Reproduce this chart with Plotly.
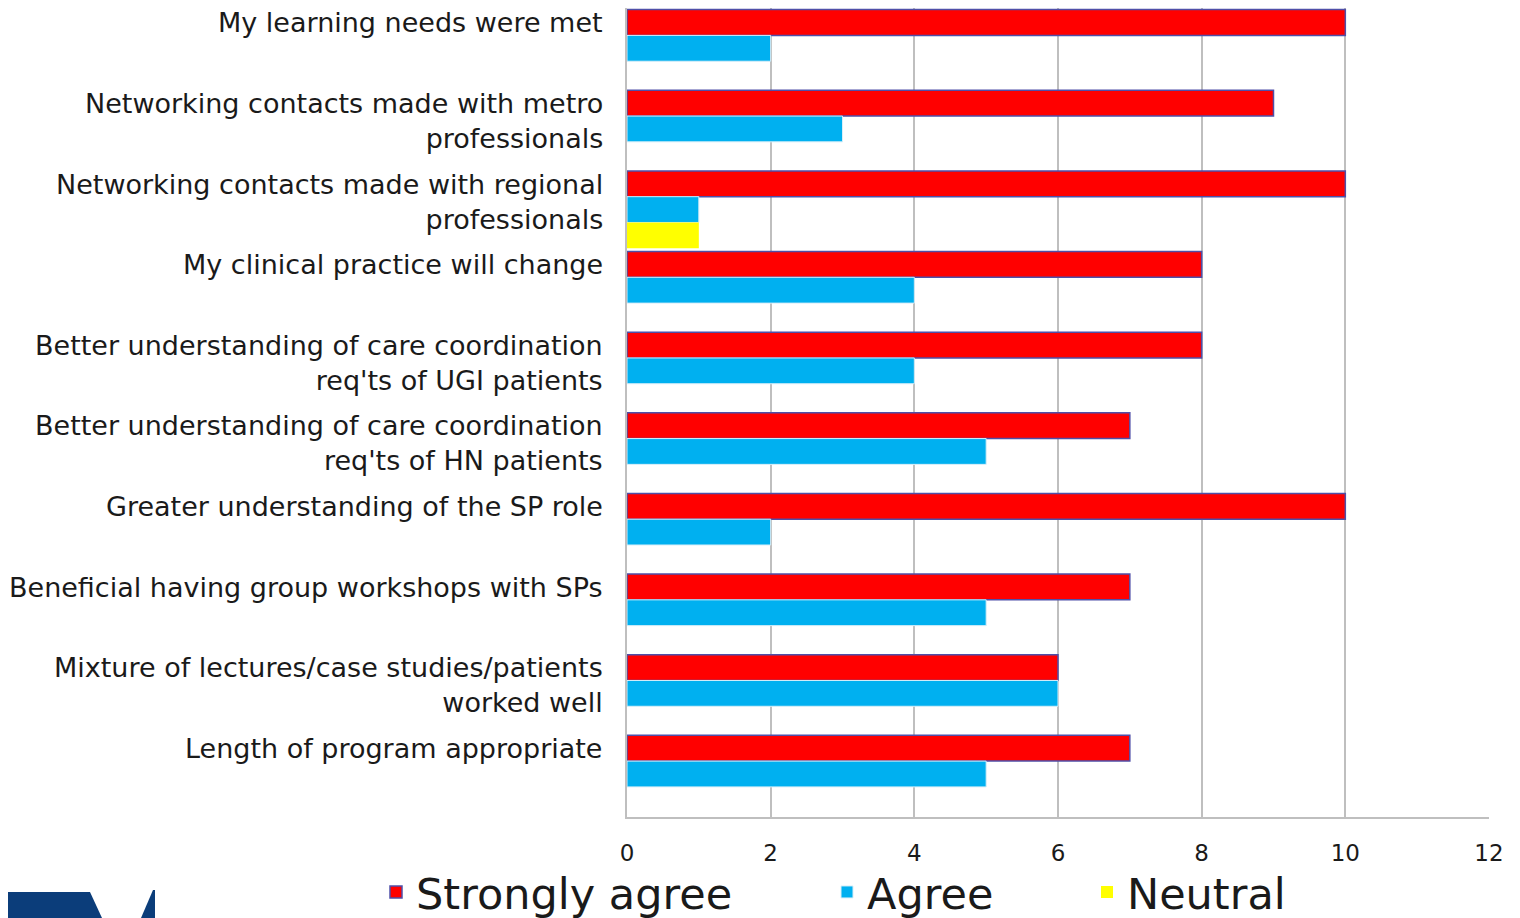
import plotly.graph_objects as go

categories = [
    "My learning needs were met",
    "Networking contacts made with metro<br>professionals",
    "Networking contacts made with regional<br>professionals",
    "My clinical practice will change",
    "Better understanding of care coordination<br>req'ts of UGI patients",
    "Better understanding of care coordination<br>req'ts of HN patients",
    "Greater understanding of the SP role",
    "Beneficial having group workshops with SPs",
    "Mixture of lectures/case studies/patients<br>worked well",
    "Length of program appropriate",
]
strongly_agree = [10, 9, 10, 8, 8, 7, 10, 7, 6, 7]
agree = [2, 3, 1, 4, 4, 5, 2, 5, 6, 5]
neutral = [0, 0, 1, 0, 0, 0, 0, 0, 0, 0]
series_names = ["Strongly agree", "Agree", "Neutral"]
x_ticks = [0, 2, 4, 6, 8, 10, 12]

# page has an 8px body margin; size the figure to fill the rest
OFF = 8
W, H = 1512, 910
L, R, T, B = 619, 31, 0, 101

FONT = "DejaVu Sans, Verdana, sans-serif"

fig = go.Figure()
fig.add_trace(go.Bar(y=categories, x=strongly_agree, orientation="h",
                     name=series_names[0], legend="legend", showlegend=True,
                     marker=dict(color="#FF0000", line=dict(color="#4F4FA8", width=1.5))))
fig.add_trace(go.Bar(y=categories, x=agree, orientation="h",
                     name=series_names[1], legend="legend2", showlegend=True,
                     marker=dict(color="#00B0F0", line=dict(color="#D8EEF8", width=1))))
fig.add_trace(go.Bar(y=categories, x=neutral, orientation="h",
                     name=series_names[2], legend="legend3", showlegend=True,
                     marker=dict(color="#FFFF00", line=dict(width=0))))

annotations = []
for c in categories:
    annotations.append(dict(
        x=0, xref="paper", y=c, yref="y", xanchor="right", yanchor="top",
        xshift=-22, yshift=43, align="right", showarrow=False, text=c,
        font=dict(family=FONT, size=27, color="#1a1a1a")))

def px(xp):
    return (xp - OFF - L) / (W - L - R)

def py(yp):
    return (H - B - (yp - OFF)) / (H - T - B)

# decorative logo fragment bottom-left
shapes = [
    dict(type="path", xref="paper", yref="paper",
         path=f"M {px(0)} {py(892)} L {px(90)} {py(892)} L {px(102)} {py(918)} L {px(0)} {py(918)} Z",
         fillcolor="#0B3D7A", line=dict(width=0), layer="above"),
    dict(type="path", xref="paper", yref="paper",
         path=f"M {px(153)} {py(890)} L {px(155)} {py(890)} L {px(155)} {py(918)} L {px(141)} {py(918)} Z",
         fillcolor="#0B3D7A", line=dict(width=0), layer="above"),
]

def legend_at(page_x):
    return dict(orientation="h", xref="container", yref="container",
                x=(page_x - OFF) / W, xanchor="left",
                y=1 - (892 - OFF) / H, yanchor="middle",
                font=dict(size=43, color="#1a1a1a", family=FONT),
                bgcolor="rgba(0,0,0,0)", visible=True)

fig.update_layout(
    width=W, height=H,
    margin=dict(l=L, r=R, t=T, b=B, autoexpand=False),
    paper_bgcolor="white", plot_bgcolor="white",
    showlegend=True,
    barmode="group", bargap=0.04, bargroupgap=0,
    font=dict(family=FONT, color="#1a1a1a"),
    xaxis=dict(range=[0, 12], tickvals=x_ticks, showgrid=True, gridcolor="#BFBFBF",
               gridwidth=2, zeroline=False, showline=True, linecolor="#BFBFBF", linewidth=2,
               ticks="", ticklabelstandoff=14, automargin=False,
               tickfont=dict(size=23, color="#1a1a1a"), fixedrange=True),
    yaxis=dict(autorange="reversed", showticklabels=False, showgrid=False, zeroline=False,
               showline=True, linecolor="#BFBFBF", linewidth=2, ticks="", automargin=False),
    legend=legend_at(376),
    legend2=legend_at(827),
    legend3=legend_at(1087),
    annotations=annotations,
    shapes=shapes,
)

fig.write_html("out.html")
